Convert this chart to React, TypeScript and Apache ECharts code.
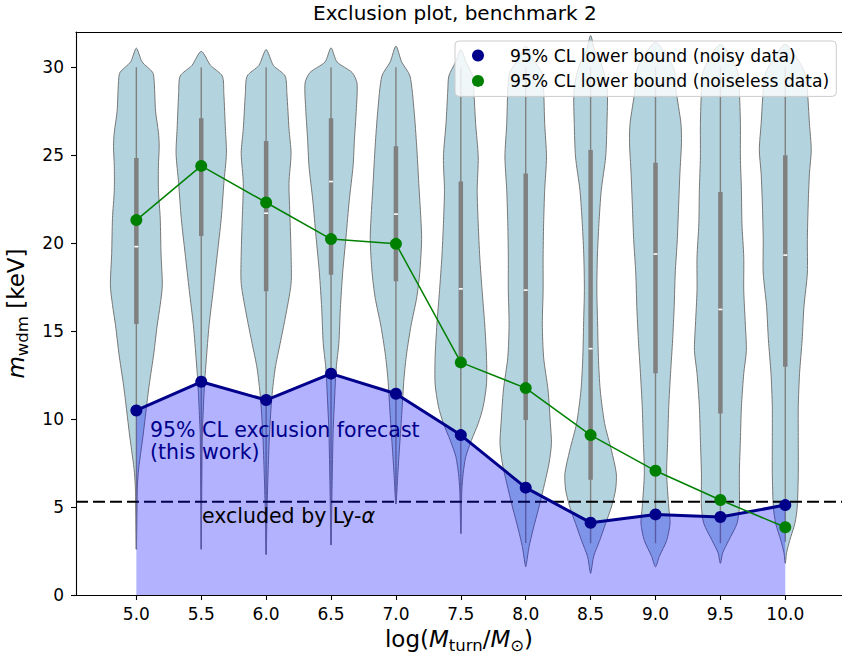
import React, { useEffect, useRef } from "react";
import * as echarts from "echarts";

// ---------------- data ----------------
const positions = [5.0, 5.5, 6.0, 6.5, 7.0, 7.5, 8.0, 8.5, 9.0, 9.5, 10.0];
const noisyLowerBound = [10.49, 12.12, 11.08, 12.58, 11.44, 9.09, 6.1, 4.11, 4.58, 4.43, 5.11];
const noiselessLowerBound = [21.31, 24.39, 22.31, 20.23, 19.96, 13.22, 11.76, 9.09, 7.06, 5.4, 3.85];
const lyaBound = 5.3;
const yTicks = [0, 5, 10, 15, 20, 25, 30];

// inner box statistics of each violin
const whiskerLow = [2.6, 2.6, 2.3, 2.84, 5.17, 3.5, 2.95, 2.94, 2.94, 2.94, 3.03];
const quartile1 = [15.4, 20.4, 17.27, 18.2, 17.84, 13.5, 9.95, 6.55, 12.6, 10.32, 12.97];
const medians = [19.8, 24.3, 21.7, 23.5, 21.65, 17.4, 17.33, 14.0, 19.38, 16.23, 19.32];
const quartile3 = [24.84, 27.1, 25.8, 27.1, 25.5, 23.5, 23.96, 25.3, 24.57, 22.9, 25.0];
const whiskerHigh = [30, 30, 30, 30, 30, 30, 30, 30, 30, 30, 30];

// density profiles: [m_wdm, relative density]
const density50 = [[31.08, 0], [30.3, 0.22], [29.7, 0.63], [29.1, 0.69], [27.5, 0.74], [26.3, 0.85], [25.5, 0.88], [24.4, 0.85], [23.0, 0.85], [21.4, 0.92], [19.4, 0.95], [17.6, 1.0], [16.5, 0.92], [15.3, 0.8], [13.7, 0.67], [12.0, 0.5], [10.45, 0.37], [9.2, 0.27], [8.2, 0.18], [7.2, 0.09], [6.2, 0.04], [4.5, 0.02], [2.6, 0]];
const density55 = [[30.9, 0], [30.1, 0.36], [29.5, 0.81], [28.5, 0.87], [26.5, 0.93], [25.1, 0.97], [23.4, 0.87], [21.4, 0.77], [19.4, 0.62], [17.3, 0.46], [15.3, 0.3], [13.3, 0.19], [12.3, 0.14], [11.25, 0.1], [10.2, 0.07], [9.2, 0.04], [6.0, 0.02], [2.6, 0]];
const density60 = [[31.0, 0], [30.1, 0.28], [29.5, 0.73], [28.5, 0.8], [26.5, 0.88], [25.1, 0.96], [23.4, 0.88], [21.4, 0.92], [19.4, 0.96], [17.7, 0.96], [15.7, 0.73], [14.3, 0.54], [12.9, 0.35], [11.25, 0.22], [9.2, 0.13], [7.2, 0.08], [5.2, 0.04], [2.3, 0]];
const density65 = [[31.1, 0], [30.3, 0.23], [29.7, 0.81], [29.1, 1.0], [27.5, 0.97], [25.85, 0.9], [24.4, 0.85], [22.4, 0.7], [20.4, 0.58], [18.35, 0.45], [16.3, 0.36], [14.3, 0.3], [12.9, 0.2], [11.25, 0.14], [9.2, 0.08], [6.2, 0.04], [2.84, 0]];
const density70 = [[31.2, 0], [30.3, 0.22], [29.5, 0.54], [27.5, 0.7], [25.5, 0.8], [23.4, 0.88], [21.4, 0.96], [20.2, 0.99], [18.35, 0.92], [16.9, 0.8], [15.3, 0.58], [13.7, 0.41], [12.3, 0.31], [10.2, 0.22], [8.2, 0.13], [6.8, 0.07], [5.17, 0]];
const density75 = [[31.0, 0], [30.3, 0.2], [29.5, 0.46], [28.7, 0.5], [26.8, 0.57], [24.9, 0.67], [23.0, 0.63], [21.1, 0.67], [19.2, 0.73], [17.3, 0.82], [15.4, 0.92], [13.5, 0.99], [12.0, 0.99], [10.7, 0.86], [9.75, 0.67], [8.8, 0.41], [7.86, 0.19], [6.9, 0.09], [5.97, 0.04], [3.5, 0]];
const density80 = [[31.2, 0], [30.4, 0.3], [29.7, 0.62], [28.7, 0.69], [26.8, 0.73], [24.9, 0.8], [23.0, 0.73], [21.1, 0.69], [19.2, 0.67], [17.3, 0.67], [15.4, 0.64], [13.5, 0.69], [11.65, 0.86], [9.75, 0.95], [8.6, 0.99], [7.5, 0.9], [6.35, 0.73], [5.0, 0.51], [3.7, 0.28], [2.75, 0.13], [1.8, 0.03], [1.6, 0]];
const density85 = [[31.8, 0], [31.0, 0.15], [30.0, 0.46], [28.7, 0.64], [26.8, 0.63], [24.9, 0.58], [23.0, 0.41], [21.1, 0.32], [19.2, 0.26], [17.3, 0.24], [15.4, 0.27], [13.5, 0.3], [11.65, 0.37], [9.75, 0.54], [8.24, 0.8], [6.9, 0.99], [5.97, 0.96], [5.0, 0.8], [4.07, 0.58], [3.1, 0.35], [2.2, 0.12], [1.42, 0.03], [1.23, 0]];
const density90 = [[31.4, 0], [30.6, 0.46], [29.8, 0.73], [28.7, 0.79], [26.8, 0.98], [25.7, 1.0], [23.96, 0.94], [22.1, 0.89], [20.2, 0.84], [18.3, 0.76], [16.4, 0.72], [14.5, 0.66], [12.6, 0.58], [10.7, 0.51], [8.8, 0.47], [6.9, 0.43], [5.0, 0.51], [4.07, 0.56], [3.1, 0.43], [2.2, 0.15], [1.6, 0]];
const density95 = [[31.3, 0], [30.3, 0.5], [29.6, 0.69], [28.7, 0.73], [26.8, 0.77], [24.9, 0.77], [23.0, 0.81], [21.1, 0.83], [19.2, 0.9], [17.3, 0.9], [15.4, 0.96], [13.9, 1.0], [12.6, 0.9], [10.7, 0.81], [8.8, 0.77], [6.9, 0.73], [5.0, 0.73], [4.07, 0.64], [3.1, 0.32], [2.4, 0.09], [1.8, 0]];
const density100 = [[31.3, 0], [30.3, 0.54], [29.6, 0.77], [28.7, 0.85], [26.8, 0.93], [25.3, 1.0], [23.96, 0.93], [22.1, 0.88], [20.2, 0.85], [18.3, 0.85], [16.4, 0.72], [14.5, 0.65], [12.6, 0.55], [10.7, 0.5], [8.8, 0.5], [6.9, 0.5], [5.0, 0.46], [4.07, 0.37], [3.1, 0.17], [2.4, 0.05], [1.8, 0]];
const densityProfiles = [density50, density55, density60, density65, density70, density75, density80, density85, density90, density95, density100];

const noisyName = "95% CL lower bound (noisy data)";
const noiselessName = "95% CL lower bound (noiseless data)";

// ---------------- layout / style ----------------
const X_MIN = 4.535;
const X_MAX = 10.437;
const Y_MIN = 0;
const Y_MAX = 32;
const VIOLIN_HALF_WIDTH = 0.2; // in x units
const FONT = "DejaVu Sans";

export default function App() {
  const ref = useRef<HTMLDivElement>(null);

  useEffect(() => {
    if (!ref.current) return;
    const chart = echarts.init(ref.current, undefined, { renderer: "svg" });

    const renderViolin = (params: any, api: any) => {
      const i = params.dataIndex;
      const x = positions[i];
      const prof = densityProfiles[i];
      const right = prof.map(([v, d]) => api.coord([x + d * VIOLIN_HALF_WIDTH, v]));
      const left = prof
        .slice(1, -1)
        .reverse()
        .map(([v, d]) => api.coord([x - d * VIOLIN_HALF_WIDTH, v]));
      const pts = right.concat(left);
      const cx = api.coord([x, 0])[0];
      const yLo = api.coord([x, whiskerLow[i]])[1];
      const yHi = api.coord([x, whiskerHigh[i]])[1];
      const yQ1 = api.coord([x, quartile1[i]])[1];
      const yQ3 = api.coord([x, quartile3[i]])[1];
      const yMed = api.coord([x, medians[i]])[1];
      return {
        type: "group",
        children: [
          {
            type: "polygon",
            shape: { points: pts, smooth: 0.25 },
            style: { fill: "#b3d4df", stroke: "#777777", lineWidth: 1 },
          },
          {
            type: "line",
            shape: { x1: cx, y1: yHi, x2: cx, y2: yLo },
            style: { stroke: "#808080", lineWidth: 1.4 },
          },
          {
            type: "line",
            shape: { x1: cx, y1: yQ3, x2: cx, y2: yQ1 },
            style: { stroke: "#808080", lineWidth: 4.5 },
          },
          {
            type: "rect",
            shape: { x: cx - 2, y: yMed - 0.8, width: 4, height: 1.6 },
            style: { fill: "#ffffff" },
          },
        ],
      };
    };

    chart.setOption({
      animation: false,
      textStyle: { fontFamily: FONT, color: "#000" },
      title: {
        text: "Exclusion plot, benchmark 2",
        left: 308,
        top: -2,
        textStyle: { fontFamily: FONT, fontSize: 20, fontWeight: "normal", color: "#000" },
      },
      legend: {
        orient: "vertical",
        left: 455,
        top: 41,
        padding: [6, 7, 7, 17],
        itemGap: 8.4,
        itemWidth: 12,
        itemHeight: 12,
        icon: "circle",
        backgroundColor: "rgba(255,255,255,0.8)",
        borderColor: "#cccccc",
        borderWidth: 1,
        borderRadius: 4,
        z: 10,
        data: [noisyName, noiselessName],
        formatter: (name: string) => "{g| }{t|" + name + "}",
        textStyle: {
          fontFamily: FONT,
          fontSize: 17.2,
          color: "#000",
          rich: {
            g: { width: 21, fontSize: 17.2, fontFamily: FONT },
            t: { fontSize: 17.2, fontFamily: FONT, color: "#000" },
          },
        },
      },
      grid: { left: 76, right: 0, top: 32, bottom: 60, outerBoundsMode: "none", containLabel: false },
      xAxis: [
        {
          type: "value",
          min: X_MIN,
          max: X_MAX,
          axisLine: { show: true, onZero: false, lineStyle: { color: "#000", width: 1.1 } },
          axisTick: { show: true, length: 5, lineStyle: { color: "#000", width: 1.1 }, customValues: positions },
          axisLabel: {
            fontFamily: FONT,
            fontSize: 17,
            color: "#000",
            margin: 10,
            customValues: positions,
            formatter: (v: number) => v.toFixed(1),
          },
          splitLine: { show: false },
          name: "{n|log(}{i|M}{s|turn}{n|/}{i|M}{s|⊙}{n|)}",
          nameLocation: "middle",
          nameGap: 29,
          nameTextStyle: {
            fontFamily: FONT,
            fontSize: 23,
            color: "#000",
            rich: {
              n: { fontSize: 23, lineHeight: 30, fontFamily: FONT },
              i: { fontSize: 23, lineHeight: 30, fontStyle: "italic", fontFamily: FONT },
              s: { fontSize: 16.5, lineHeight: 16, verticalAlign: "bottom", fontFamily: FONT },
            },
          },
        },
        {
          type: "value",
          position: "top",
          min: X_MIN,
          max: X_MAX,
          axisLine: { show: true, onZero: false, lineStyle: { color: "#000", width: 1.1 } },
          axisTick: { show: false },
          axisLabel: { show: false },
          splitLine: { show: false },
        },
      ],
      yAxis: {
        type: "value",
        min: Y_MIN,
        max: Y_MAX,
        axisLine: { show: true, onZero: false, lineStyle: { color: "#000", width: 1.1 } },
        axisTick: { show: true, length: 5, lineStyle: { color: "#000", width: 1.1 }, customValues: yTicks },
        axisLabel: { fontFamily: FONT, fontSize: 17, color: "#000", margin: 12, customValues: yTicks },
        splitLine: { show: false },
        name: "{i|m}{s|wdm}{n| [keV]}",
        nameLocation: "middle",
        nameRotate: 90,
        nameGap: 45,
        nameTextStyle: {
          fontFamily: FONT,
          fontSize: 23,
          color: "#000",
          rich: {
            n: { fontSize: 23, lineHeight: 30, fontFamily: FONT },
            i: { fontSize: 23, lineHeight: 30, fontStyle: "italic", fontFamily: FONT },
            s: { fontSize: 16.5, lineHeight: 16, verticalAlign: "bottom", fontFamily: FONT },
          },
        },
      },
      graphic: [
        {
          type: "text",
          left: 150,
          top: 419,
          z: 20,
          style: {
            text: "95% CL exclusion forecast\n(this work)",
            fontFamily: FONT,
            fontSize: 20.5,
            lineHeight: 22,
            fill: "#00008b",
          },
        },
        {
          type: "text",
          left: 202,
          top: 505,
          z: 20,
          style: {
            text: "excluded by Ly-{i|α}",
            fontFamily: FONT,
            fontSize: 20.5,
            lineHeight: 22,
            fill: "#000",
            rich: { i: { fontStyle: "italic", fontSize: 20.5, fontFamily: FONT, fill: "#000" } },
          },
        },
      ],
      series: [
        {
          type: "custom",
          name: "violins",
          z: 1,
          renderItem: renderViolin,
          data: positions.map((p, i) => [p, medians[i]]),
          encode: { x: 0, y: 1 },
          silent: true,
        },
        {
          type: "line",
          name: "Ly-alpha bound",
          z: 3,
          data: [
            [X_MIN, lyaBound],
            [X_MAX, lyaBound],
          ],
          symbol: "none",
          lineStyle: { color: "#000", width: 2, type: [12, 5] },
          silent: true,
        },
        {
          type: "line",
          name: noisyName,
          z: 4,
          data: positions.map((p, i) => [p, noisyLowerBound[i]]),
          symbol: "circle",
          symbolSize: 12,
          showSymbol: true,
          itemStyle: { color: "#00008b" },
          lineStyle: { color: "#00008b", width: 3 },
          areaStyle: { color: "#0000ff", opacity: 0.3, origin: "start" },
        },
        {
          type: "line",
          name: noiselessName,
          z: 5,
          data: positions.map((p, i) => [p, noiselessLowerBound[i]]),
          symbol: "circle",
          symbolSize: 12,
          showSymbol: true,
          itemStyle: { color: "#008000" },
          lineStyle: { color: "#008000", width: 1.5 },
        },
      ],
    });

    return () => chart.dispose();
  }, []);

  return (
    <div
      ref={ref}
      style={{ position: "fixed", left: 0, top: 0, width: 842, height: 655, background: "#fff" }}
    />
  );
}
